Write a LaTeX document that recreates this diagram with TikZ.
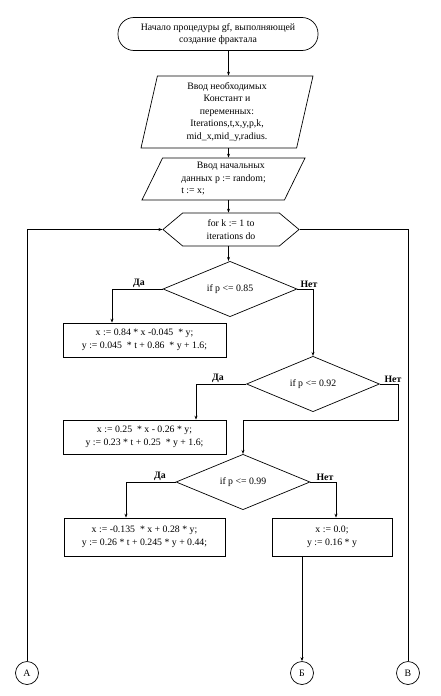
\documentclass[tikz,border=0pt]{standalone}
\usepackage{fontspec}
\setmainfont{Liberation Serif}
\usetikzlibrary{shapes.geometric,shapes.symbols,arrows.meta}
\begin{document}
\begin{tikzpicture}[x=1pt,y=-1pt,
  every node/.style={font=\fontsize{9.8}{12.5}\selectfont, inner sep=0pt},
  ln/.style={line width=0.7pt},
  arr/.style={ln,-{Stealth[length=4pt,width=3pt]}},
  box/.style={draw,ln,rectangle,align=center},
  dia/.style={draw,ln,diamond,align=center},
  par/.style={draw,ln,trapezium,trapezium stretches body,align=center},
  lbl/.style={font=\fontsize{9.8}{12}\selectfont\bfseries,anchor=south,inner sep=1pt},
  conn/.style={draw,ln,circle,minimum size=23pt}]
\useasboundingbox (0,0) rectangle (441,696);
\coordinate (mc) at (228.5,0);
\node[draw,ln,rectangle,rounded corners=16pt,minimum width=200pt,minimum height=33pt,align=center] (term) at (218,34)
  {Начало процедуры gf, выполняющей\\создание фрактала};
\node[par,trapezium left angle=74.5,trapezium right angle=105.5,minimum width=172pt,minimum height=72pt] (p1) at (227,112)
  {Ввод необходимых\\Констант и\\переменных:\\Iterations,t,x,y,p,k,\\mid\_x,mid\_y,radius.};
\node[par,align=left,trapezium left angle=58,trapezium right angle=122,minimum width=163pt,minimum height=42pt] (p2) at (223.5,179)
  {\hspace*{1.6em}Ввод начальных\\данных p := random;\\t := x;};
\node[draw,ln,signal,signal to=east and west,signal pointer angle=80,minimum width=136pt,minimum height=33pt,align=center] (hex) at (231,229.5)
  {for k := 1 to\\iterations do};
\node[dia,minimum width=134pt,minimum height=44pt] (d1) at (230,289) {if p <= 0.85};
\node[dia,minimum width=133pt,minimum height=42pt] (d2) at (313,384) {if p <= 0.92};
\node[dia,minimum width=134pt,minimum height=41pt] (d3) at (243,482) {if p <= 0.99};
\node[box,minimum width=163pt,minimum height=34pt] (b1) at (144.5,340)
  {x := 0.84 * x -0.045~ * y;\\y := 0.045~ * t + 0.86~ * y + 1.6;};
\node[box,minimum width=163pt,minimum height=34pt] (b2) at (144.5,437)
  {x := 0.25~ * x - 0.26 * y;\\y := 0.23 * t + 0.25~ * y + 1.6;};
\node[box,minimum width=161pt,minimum height=38pt] (b3) at (144.5,537)
  {x := -0.135~ * x + 0.28 * y;\\y := 0.26 * t + 0.245 * y + 0.44;};
\node[box,minimum width=120pt,minimum height=38pt] (b4) at (332,537)
  {x := 0.0;\\y := 0.16 * y};
\node[conn] (ca) at (27,673) {А};
\node[conn] (cb) at (302,673) {Б};
\node[conn] (cv) at (408,673) {В};
% labels
\node[lbl] (l1y) at (139,289) {Да};
\node[lbl] (l1n) at (309,289) {Нет};
\node[lbl] (l2y) at (218,384) {Да};
\node[lbl] (l2n) at (393,384) {Нет};
\node[lbl] (l3y) at (160,482) {Да};
\node[lbl] (l3n) at (325,482) {Нет};
% connectors
\draw[arr] (term.south -| mc) -- (p1.north -| mc);
\draw[arr] (p1.south -| mc) -- (p2.north -| mc);
\draw[arr] (p2.south -| mc) -- (hex.north -| mc);
\draw[arr] (hex.south -| mc) -- (d1.north -| mc);
\draw[arr] (d1.west) -| ([xshift=-32.5pt]b1.north);
\draw[arr] (d1.east) -| (d2.north);
\draw[arr] (d2.west) -| ([xshift=51.5pt]b2.north);
\draw[arr] (d2.east) -- ++(18,0) -- ++(0,36) -| (d3.north);
\draw[arr] (d3.west) -| ([xshift=-18.5pt]b3.north);
\draw[arr] (d3.east) -| ([xshift=4pt]b4.north);
\draw[arr] ([xshift=-30pt]b4.south) -- (cb.north);
\draw[arr] (ca.north) |- (hex.west);
\draw[ln] (hex.east) -| (cv.north);
\end{tikzpicture}
\end{document}
